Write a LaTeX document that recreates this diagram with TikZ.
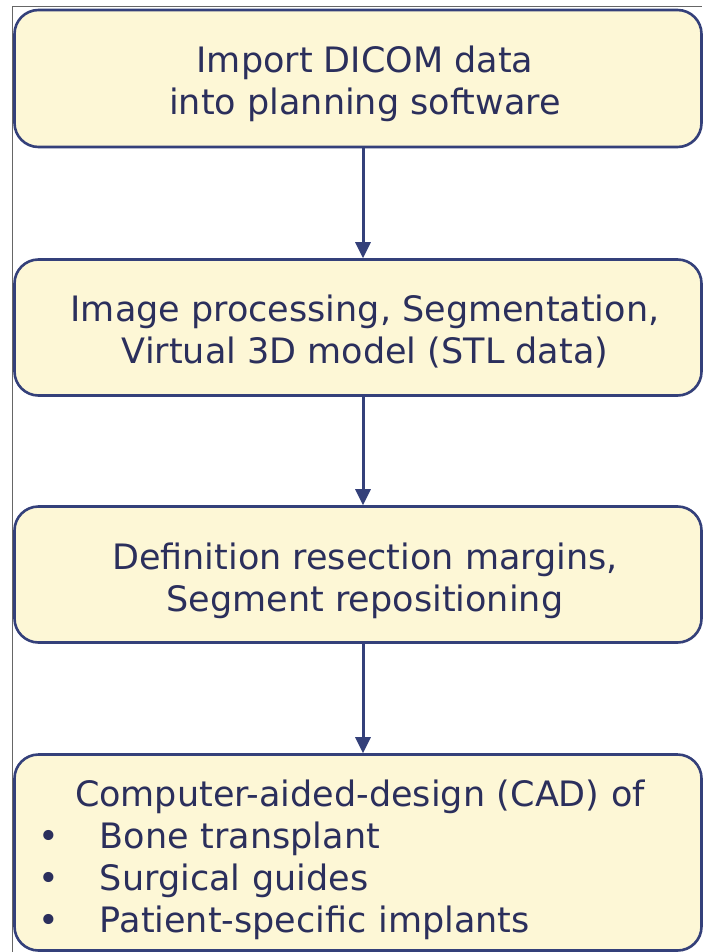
\documentclass[tikz,border=0pt]{standalone}
\usepackage{fontspec}
\setmainfont{DejaVu Sans}
\usetikzlibrary{arrows.meta,shadows}

\definecolor{boxfill}{HTML}{FDF7D6}
\definecolor{boxline}{HTML}{34407A}
\definecolor{boxtext}{HTML}{2B2F5C}

\tikzset{
    stepbox/.style={draw=boxline, line width=2.6pt, fill=boxfill, rounded corners=24pt,
        minimum width=687pt,
        drop shadow={shadow xshift=1pt, shadow yshift=-1.2pt, fill=gray!45}},
    steptext/.style={text=boxtext, align=center, font=\fontsize{35}{42}\selectfont},
    flow/.style={draw=boxline, line width=3pt, -{Triangle[length=16pt,width=15pt]}}
}

\begin{document}
\begin{tikzpicture}[x=1pt,y=-1pt]
    \useasboundingbox (0,0) rectangle (702,952);
    \draw[gray!80!black, line width=1pt] (12,952) -- (12,7) -- (702,7);

    % boxes
    \node[stepbox, minimum height=137pt] (import) at (358,78.5) {};
    \node[stepbox, minimum height=136pt] (segment) at (358,327.5) {};
    \node[stepbox, minimum height=136pt] (margins) at (358,574.5) {};
    \node[stepbox, minimum height=196pt] (cad) at (358,852.5) {};

    % texts
    \node[steptext] (importtext) at ([xshift=7pt,yshift=-5pt]import.center)
        {Import DICOM data\\into planning software};
    \node[steptext] (segmenttext) at ([xshift=7pt,yshift=-4pt]segment.center)
        {Image processing, Segmentation,\\Virtual 3D model (STL data)};
    \node[steptext] (marginstext) at ([xshift=7pt,yshift=-6pt]margins.center)
        {Definition resection margins,\\Segment repositioning};
    \node[steptext, text width=650pt, align=left] (cadtext) at ([yshift=-7pt]cad.center)
        {\hspace*{42pt}Computer-aided-design (CAD) of\\
         \makebox[67pt][l]{\hspace*{5pt}\textbullet}Bone transplant\\
         \makebox[67pt][l]{\hspace*{5pt}\textbullet}Surgical guides\\
         \makebox[67pt][l]{\hspace*{5pt}\textbullet}Patient-specific implants};

    \draw[flow] ([xshift=5pt]import.south) -- ([xshift=5pt]segment.north);
    \draw[flow] ([xshift=5pt]segment.south) -- ([xshift=5pt]margins.north);
    \draw[flow] ([xshift=5pt]margins.south) -- ([xshift=5pt]cad.north);
\end{tikzpicture}
\end{document}
